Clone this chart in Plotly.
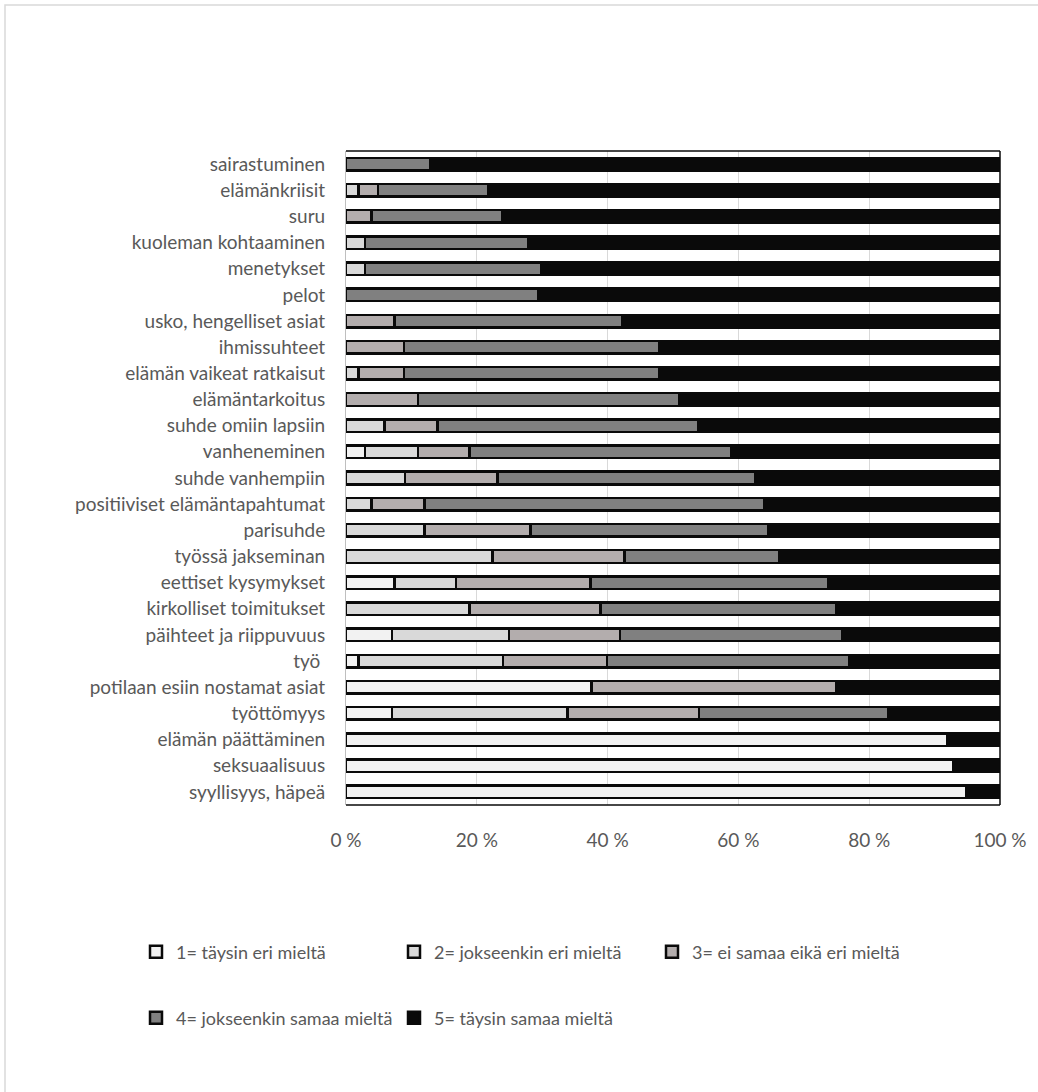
import plotly.graph_objects as go

categories = [
    "sairastuminen", "elämänkriisit", "suru", "kuoleman kohtaaminen", "menetykset",
    "pelot", "usko, hengelliset asiat", "ihmissuhteet", "elämän vaikeat ratkaisut",
    "elämäntarkoitus", "suhde omiin lapsiin", "vanheneminen", "suhde vanhempiin",
    "positiiviset elämäntapahtumat", "parisuhde", "työssä jakseminan",
    "eettiset kysymykset", "kirkolliset toimitukset", "päihteet ja riippuvuus",
    "työ ", "potilaan esiin nostamat asiat", "työttömyys", "elämän päättäminen",
    "seksuaalisuus", "syyllisyys, häpeä",
]

s1 = [0, 0, 0, 0, 0, 0, 0, 0, 0, 0, 0, 2.9, 0, 0, 0, 0, 7.4, 0, 7.0, 1.9, 37.5, 7.0, 91.9, 92.9, 94.9]
s2 = [0, 1.9, 0, 2.9, 2.9, 0, 0, 0, 1.9, 0, 5.9, 8.1, 9.0, 3.9, 12.0, 22.4, 9.4, 18.9, 17.9, 22.1, 0, 26.9, 0, 0, 0]
s3 = [0, 3.0, 3.9, 0, 0, 0, 7.4, 8.9, 7.0, 11.0, 8.1, 7.9, 14.2, 8.1, 16.2, 20.2, 20.6, 20.0, 17.0, 15.9, 37.4, 20.1, 0, 0, 0]
s4 = [12.9, 16.9, 20.0, 25.0, 27.0, 29.4, 34.9, 39.0, 39.0, 39.9, 39.9, 40.0, 39.3, 51.9, 36.3, 23.6, 36.4, 36.0, 34.0, 37.0, 0, 28.9, 0, 0, 0]
s5 = [87.1, 78.2, 76.1, 72.1, 70.1, 70.6, 57.7, 52.1, 52.1, 49.1, 46.1, 41.1, 37.5, 36.1, 35.5, 33.8, 26.2, 25.1, 24.1, 23.1, 25.1, 17.1, 8.1, 7.1, 5.1]

series_names = [
    "1= täysin eri mieltä",
    "2= jokseenkin eri mieltä",
    "3= ei samaa eikä eri mieltä",
    "4= jokseenkin samaa mieltä",
    "5= täysin samaa mieltä",
]
series_values = [s1, s2, s3, s4, s5]
series_colors = ["#f2f2f2", "#d9d9d9", "#b3adad", "#808080", "#0a0a0a"]
legend_ids = ["legend", "legend", "legend", "legend2", "legend2"]

tick_vals = [0, 20, 40, 60, 80, 100]
tick_text = ["0 %", "20 %", "40 %", "60 %", "80 %", "100 %"]

W, H = 1038, 1092
L, R, T, B = 346, 1000, 151, 805
FONT = "Lato, 'Open Sans', sans-serif"
TXT = "#595959"

fig = go.Figure()
for name, vals, col, lg in zip(series_names, series_values, series_colors, legend_ids):
    fig.add_trace(go.Bar(
        y=categories,
        x=[v if v else None for v in vals],
        name=name,
        orientation="h",
        marker=dict(color=col, line=dict(color="#0a0a0a", width=2.5)),
        legend=lg,
    ))

pw, ph = R - L, B - T


def px_x(x):
    return (x - L) / pw


def px_y(y):
    return (B - y) / ph


fig.update_layout(
    width=W, height=H,
    margin=dict(l=L, r=W - R, t=T, b=H - B),
    barmode="stack",
    bargap=0.52,
    plot_bgcolor="white",
    paper_bgcolor="white",
    font=dict(family=FONT, size=19, color=TXT),
    xaxis=dict(
        range=[0, 100], tickvals=tick_vals, ticktext=tick_text,
        showgrid=True, gridcolor="#d9d9d9", gridwidth=1,
        zeroline=False, showline=False, ticks="",
        ticklabelstandoff=22,
        tickfont=dict(size=19, color=TXT, family=FONT),
    ),
    yaxis=dict(
        autorange="reversed", showgrid=False, zeroline=False,
        showline=True, linecolor="#bfbfbf", linewidth=1, ticks="",
        ticklabelstandoff=16,
        tickfont=dict(size=19, color=TXT, family=FONT),
    ),
    legend=dict(
        orientation="h", x=px_x(136), xanchor="left", y=px_y(952), yanchor="middle",
        entrywidth=213, itemwidth=30, font=dict(size=18, color=TXT, family=FONT),
        bgcolor="rgba(0,0,0,0)", traceorder="normal",
    ),
    legend2=dict(
        orientation="h", x=px_x(136), xanchor="left", y=px_y(1018), yanchor="middle",
        entrywidth=213, itemwidth=30, font=dict(size=18, color=TXT, family=FONT),
        bgcolor="rgba(0,0,0,0)", traceorder="normal",
    ),
    shapes=[
        dict(type="line", xref="paper", yref="paper", x0=0, x1=1, y0=1, y1=1,
             line=dict(color="#0a0a0a", width=1.5)),
        dict(type="line", xref="paper", yref="paper", x0=1, x1=1, y0=0, y1=1,
             line=dict(color="#0a0a0a", width=1.5)),
        dict(type="line", xref="paper", yref="paper", x0=0, x1=1, y0=0, y1=0,
             line=dict(color="#0a0a0a", width=1.5)),
        dict(type="rect", xref="paper", yref="paper",
             x0=px_x(5), x1=px_x(1060), y0=px_y(1110), y1=px_y(5),
             line=dict(color="#d9d9d9", width=1.5), layer="below"),
    ],
)

fig.write_html("out.html")
